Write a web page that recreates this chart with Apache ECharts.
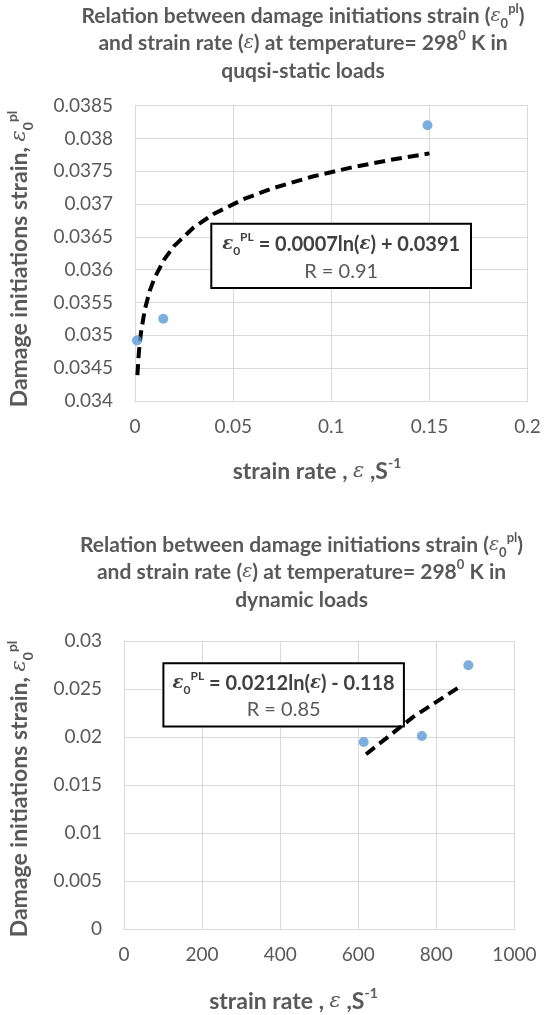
<!DOCTYPE html>
<html><head><meta charset="utf-8">
<script src="https://cdn.jsdelivr.net/npm/echarts@6/dist/echarts.min.js"></script>
<style>html,body{margin:0;padding:0;background:#fff}#c{width:545px;height:1015px}</style>
</head><body><div id="c"></div>
<script>
// ---- quasi-static loads (top chart) ----
const qsRate = [0.001, 0.0144, 0.149];
const qsStrain = [0.03492, 0.03525, 0.0382];
const qsTrendRate = [0.0012, 0.002, 0.003, 0.005, 0.0075, 0.01, 0.015, 0.02, 0.03, 0.04, 0.055, 0.07, 0.09, 0.11, 0.13, 0.15];
const qsTrendStrain = [0.034392, 0.03475, 0.035034, 0.035391, 0.035675, 0.035876, 0.03616, 0.036362, 0.036645, 0.036847, 0.03707, 0.037239, 0.037415, 0.037555, 0.037672, 0.037772];
const qsXTicks = [0, 0.05, 0.1, 0.15, 0.2];
const qsYTicks = [0.034, 0.0345, 0.035, 0.0355, 0.036, 0.0365, 0.037, 0.0375, 0.038, 0.0385];
const qsEquation = ['0.0007ln(', ') + 0.0391'];
const qsR = 'R = 0.91';

// ---- dynamic loads (bottom chart) ----
const dynRate = [614, 763, 882];
const dynStrain = [0.01947, 0.0201, 0.02748];
const dynTrendRate = [620, 740, 866];
const dynTrendStrain = [0.0182, 0.02206, 0.0254];
const dynXTicks = [0, 200, 400, 600, 800, 1000];
const dynYTicks = [0, 0.005, 0.01, 0.015, 0.02, 0.025, 0.03];
const dynEquation = ['0.0212ln(', ') - 0.118'];
const dynR = 'R = 0.85';

const GRAY = '#595959', GRID = '#d9d9d9', FONT = 'Lato';

function pairs(xs, ys){ return xs.map((x,i)=>[x, ys[i]]); }
function fmt(v){ return String(+(+v).toFixed(5)); }

function xAxis(gi, ticks){
  return {type:'value', gridIndex:gi, min:ticks[0], max:ticks[ticks.length-1], interval:ticks[1]-ticks[0],
    axisLine:{show:true, lineStyle:{color:GRID, width:1}}, axisTick:{show:false},
    splitLine:{show:true, lineStyle:{color:GRID, width:1}},
    axisLabel:{color:GRAY, fontFamily:FONT, fontSize:19, margin:17, formatter:fmt}};
}
function yAxis(gi, ticks){
  return {type:'value', gridIndex:gi, min:ticks[0], max:ticks[ticks.length-1], interval:+(ticks[1]-ticks[0]).toFixed(6),
    axisLine:{show:true, lineStyle:{color:GRID, width:1}}, axisTick:{show:false},
    splitLine:{show:true, lineStyle:{color:GRID, width:1}},
    axisLabel:{color:GRAY, fontFamily:FONT, fontSize:19, margin:22, formatter:fmt}};
}

function richSet(size, color, lh, boldEps){
  const T = {fontFamily:FONT, fontSize:size, fontWeight:'bold', fill:color, lineHeight:lh};
  const small = Math.round(size*0.62);
  return {
    t:T,
    e:Object.assign({}, T, {fontFamily:'DejaVu Serif', fontStyle:'italic', fontWeight:boldEps ? 'bold' : 'normal', fontSize:size-2}),
    sub:{fontFamily:FONT, fontWeight:'bold', fontSize:small, fill:color, lineHeight:small+1, verticalAlign:'bottom'},
    sup:{fontFamily:FONT, fontWeight:'bold', fontSize:small, fill:color, lineHeight:small+1, verticalAlign:'top'},
    r:{fontFamily:FONT, fontSize:size, fill:GRAY, lineHeight:lh}
  };
}
const titleRich = richSet(21, GRAY, 28, false);
const axisRich = richSet(23, GRAY, 30, false);
const eqRich = richSet(20, '#404040', 26, true);

function textEl(x, y, text, rich, rot){
  const el = {type:'text', x:x, y:y, z:5, style:{text:text, rich:rich, align:'center', verticalAlign:'middle',
    fontFamily:FONT, fontSize:18, fontWeight:'bold', fill:GRAY}};
  if (rot) el.rotation = rot;
  return el;
}
function titleEls(cx, y0, lastLine){
  return [
    textEl(cx, y0, '{t|Relation between damage initiations strain (}{e|ε}{sub|0}{sup|pl}{t|)}', titleRich),
    textEl(cx, y0+27, '{t|and strain rate (}{e|ε}{t|) at temperature= 298}{sup|0}{t| K in}', titleRich),
    textEl(cx, y0+54.5, '{t|' + lastLine + '}', titleRich)
  ];
}
const xTitle = '{t|strain rate , }{e|ε}{t| ,S}{sup|-1}';
const yTitle = '{t|Damage initiations strain, }{e|ε}{sub|0}{sup|pl}';

function eqEls(box, eq, r){
  const cx = box.x + box.w/2;
  return [
    {type:'rect', z:1, shape:{x:box.x, y:box.y, width:box.w, height:box.h}, style:{fill:'#fff', stroke:'#000', lineWidth:2}},
    textEl(cx, box.y + box.h*0.32, '{e|ε}{sub|0}{sup|PL}{t| = ' + eq[0] + '}{e|ε}{t|' + eq[1] + '}', eqRich),
    textEl(cx, box.y + box.h*0.74, '{r|' + r + '}', eqRich)
  ];
}

const chart = echarts.init(document.getElementById('c'), null, {renderer:'canvas'});
chart.setOption({
  backgroundColor:'#fff',
  animation:false,
  grid:[
    {left:135, top:105.6, width:392.6, height:295.2},
    {left:124, top:641, width:390.4, height:287.8}
  ],
  xAxis:[xAxis(0, qsXTicks), xAxis(1, dynXTicks)],
  yAxis:[yAxis(0, qsYTicks), yAxis(1, dynYTicks)],
  series:[
    {type:'line', xAxisIndex:0, yAxisIndex:0, data:pairs(qsTrendRate, qsTrendStrain), smooth:false,
      showSymbol:false, lineStyle:{color:'#000', width:4, type:[11,6]}, z:3},
    {type:'scatter', xAxisIndex:0, yAxisIndex:0, data:pairs(qsRate, qsStrain), symbolSize:10, itemStyle:{color:'#5b9bd5'}, z:4},
    {type:'line', xAxisIndex:1, yAxisIndex:1, data:pairs(dynTrendRate, dynTrendStrain), smooth:false,
      showSymbol:false, lineStyle:{color:'#000', width:4, type:[11,6]}, z:3},
    {type:'scatter', xAxisIndex:1, yAxisIndex:1, data:pairs(dynRate, dynStrain), symbolSize:10, itemStyle:{color:'#5b9bd5'}, z:4}
  ],
  graphic:{elements:[].concat(
    titleEls(303, 16.5, 'quqsi-static loads'),
    titleEls(301.5, 545.5, 'dynamic loads'),
    [textEl(317, 471.7, xTitle, axisRich), textEl(293.5, 1001.7, xTitle, axisRich),
     textEl(20, 259, yTitle, axisRich, Math.PI/2), textEl(20, 789, yTitle, axisRich, Math.PI/2)],
    eqEls({x:211.3, y:223.8, w:259.7, h:64.3}, qsEquation, qsR),
    eqEls({x:163.4, y:663.2, w:240.5, h:63.3}, dynEquation, dynR)
  )}
});
</script></body></html>
